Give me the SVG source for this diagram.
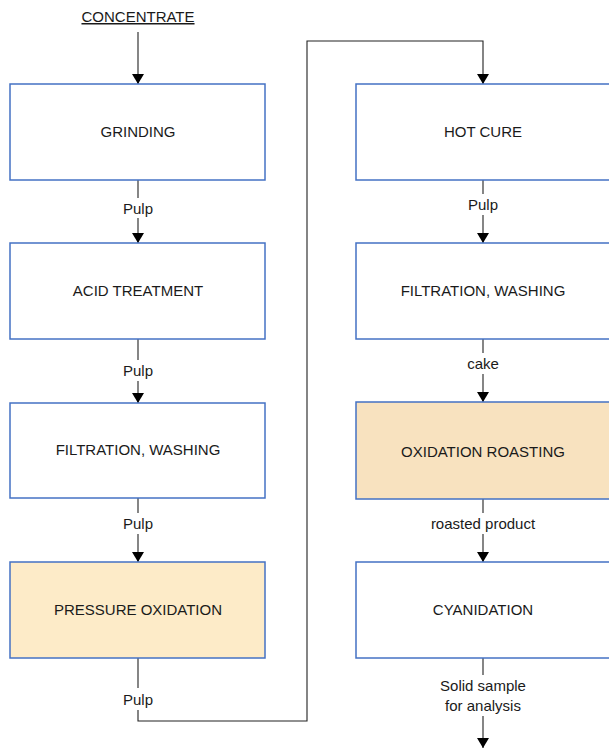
<svg xmlns="http://www.w3.org/2000/svg" width="609" height="748" viewBox="0 0 609 748">
<defs>
<marker id="ah" markerWidth="10" markerHeight="12" refX="10" refY="6" orient="auto" markerUnits="userSpaceOnUse">
<path d="M0,0 L10,6 L0,12 Z" fill="#000"/>
</marker>
<style>
.box{fill:#fff;stroke:#4472C4;stroke-width:1.5}
.hl{fill:#FDEBC8}
.hl2{fill:#F8E2BF}
.t{font-family:"Liberation Sans",Arial,sans-serif;font-size:15px;fill:#1a1a1a;text-anchor:middle}
.c{fill:none;stroke:#222;stroke-width:1.1}
</style>
</defs>
<rect width="609" height="748" fill="#fff"/>
<g id="connectors">
<line class="c" x1="138" y1="32" x2="138" y2="84" marker-end="url(#ah)"/>
<line class="c" x1="138" y1="180" x2="138" y2="198"/>
<line class="c" x1="138" y1="218" x2="138" y2="243" marker-end="url(#ah)"/>
<line class="c" x1="138" y1="339" x2="138" y2="360"/>
<line class="c" x1="138" y1="381" x2="138" y2="403" marker-end="url(#ah)"/>
<line class="c" x1="138" y1="498" x2="138" y2="513"/>
<line class="c" x1="138" y1="534" x2="138" y2="562" marker-end="url(#ah)"/>
<line class="c" x1="138" y1="658" x2="138" y2="688"/>
<polyline class="c" points="138,710 138,721 307,721 307,41 483,41 483,84" marker-end="url(#ah)"/>
<line class="c" x1="483" y1="180" x2="483" y2="194"/>
<line class="c" x1="483" y1="215" x2="483" y2="243" marker-end="url(#ah)"/>
<line class="c" x1="483" y1="339" x2="483" y2="353"/>
<line class="c" x1="483" y1="374" x2="483" y2="402" marker-end="url(#ah)"/>
<line class="c" x1="483" y1="499" x2="483" y2="513"/>
<line class="c" x1="483" y1="534" x2="483" y2="562" marker-end="url(#ah)"/>
<line class="c" x1="483" y1="658" x2="483" y2="675"/>
<line class="c" x1="483" y1="716" x2="483" y2="748" marker-end="url(#ah)"/>
<text class="t" x="138" y="214">Pulp</text>
<text class="t" x="138" y="376">Pulp</text>
<text class="t" x="138" y="529">Pulp</text>
<text class="t" x="138" y="705">Pulp</text>
<text class="t" x="483" y="210">Pulp</text>
<text class="t" x="483" y="369">cake</text>
<text class="t" x="483" y="529">roasted product</text>
<text class="t" x="483" y="691">Solid sample</text>
<text class="t" x="483" y="711">for analysis</text>
</g>
<g id="concentrate">
<text class="t" x="138" y="22" text-decoration="underline">CONCENTRATE</text>
</g>
<g id="grinding"><rect class="box" x="10" y="84" width="255" height="96"/><text class="t" x="138" y="137">GRINDING</text></g>
<g id="acid"><rect class="box" x="10" y="243" width="255" height="96"/><text class="t" x="138" y="296">ACID TREATMENT</text></g>
<g id="filt1"><rect class="box" x="10" y="403" width="255" height="95"/><text class="t" x="138" y="455">FILTRATION, WASHING</text></g>
<g id="pox"><rect class="box hl" x="10" y="562" width="255" height="96"/><text class="t" x="138" y="615">PRESSURE OXIDATION</text></g>
<g id="hotcure"><rect class="box" x="356" y="84" width="260" height="96"/><text class="t" x="483" y="137">HOT CURE</text></g>
<g id="filt2"><rect class="box" x="356" y="243" width="260" height="96"/><text class="t" x="483" y="296">FILTRATION, WASHING</text></g>
<g id="roast"><rect class="box hl2" x="356" y="402" width="260" height="97"/><text class="t" x="483" y="457">OXIDATION ROASTING</text></g>
<g id="cyan"><rect class="box" x="356" y="562" width="260" height="96"/><text class="t" x="483" y="615">CYANIDATION</text></g>
</svg>
